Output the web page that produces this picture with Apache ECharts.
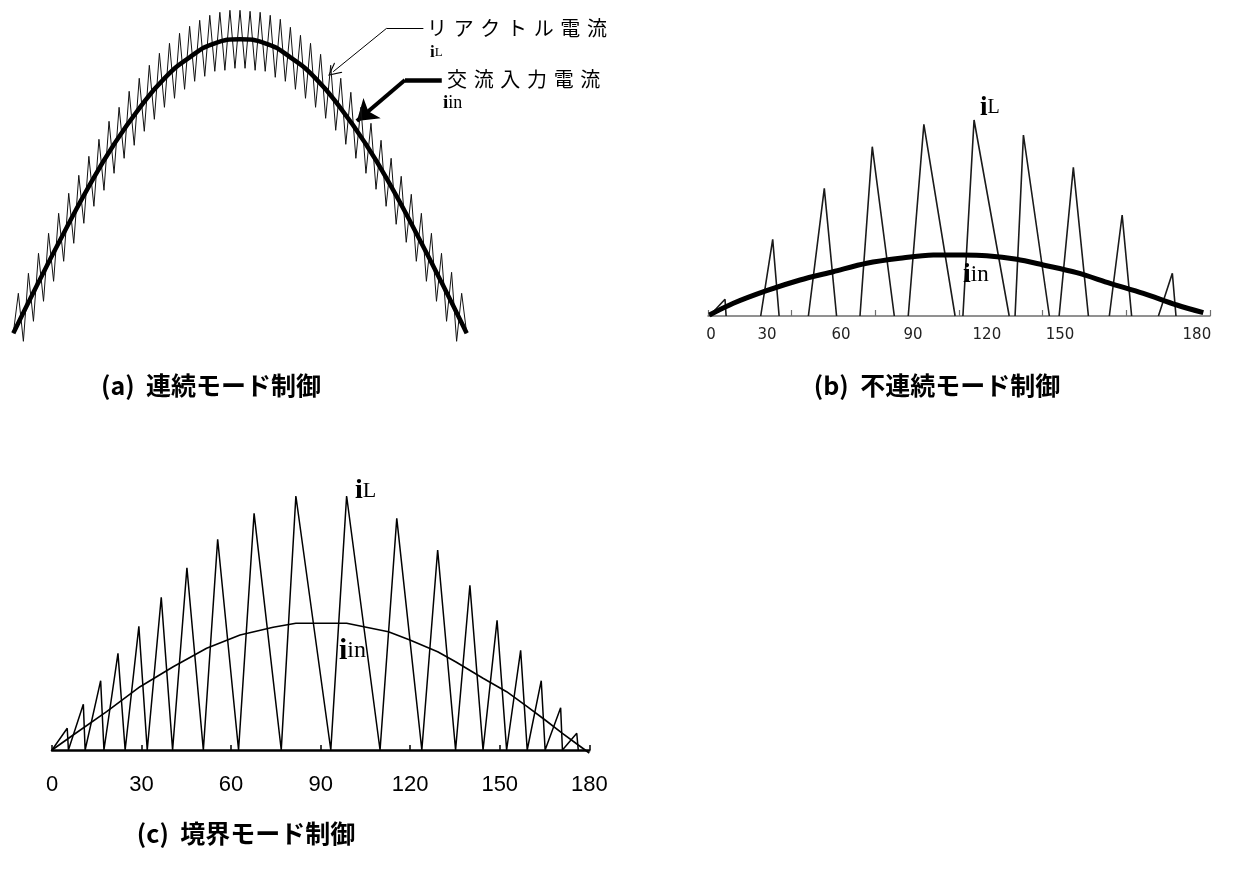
<!DOCTYPE html>
<html><head><meta charset="utf-8">
<script src="https://cdn.jsdelivr.net/npm/echarts@6/dist/echarts.min.js"></script>
<style>html,body{margin:0;padding:0;background:#fff}#c{width:1235px;height:879px}</style>
</head><body><div id="c"></div>
<script>
// ---------- (a) continuous mode: ripple samples (start, peak, valley, ..., peak, end)
const contIL = [0,
 40,-8, 60,12, 80,32, 100,52, 120,72, 140,90, 158,110, 177,127, 194,143, 212,160,
 226,175, 242,188, 255,202, 268,214, 280,226, 290,235, 300,244, 307,252, 313,257, 318,262,
 321,263, 323,265, 323,265, 322,263, 321,262, 318,256, 314,252, 306,244, 298,235, 290,226,
 279,215, 268,203, 255,189, 241,175, 226,160, 210,144, 193,127, 175,109, 157,91, 139,72,
 120,52, 100,32, 80,12, 61,-8, 40, 0];
const contIinDeg = [0,10,20,30,40,50,60,70,80,90,100,110,120,130,140,150,160,170,180];
const contIin    = [0,51,100,147,189,225,255,276,290,294,290,276,255,225,189,147,100,51,0];
// annotation leaders in (a) data coordinates [deg, value]
const leaderIL  = [[162.8,305],[148.2,305],[127.0,261.6]];
const leaderIin = [[170.1,253.3],[155.5,253.3],[136.4,212.3]];

// ---------- (b) discontinuous mode
const discIL = [
 [0.5,0],[6.1,16.7],[6.5,0],'-',
 [18.9,0],[23.2,76.7],[25.5,0],'-',
 [36.0,0],[41.7,127.7],[46.1,0],'-',
 [54.5,0],[58.9,169.3],[66.8,0],'-',
 [71.8,0],[77.4,191.7],[88.6,0],'-',
 [91.4,0],[95.4,196],[108.0,0],'-',
 [110.1,0],[113.1,181],[122.4,0],'-',
 [125.9,0],[131.0,148.7],[136.4,0],'-',
 [143.9,0],[148.5,101],[151.9,0],'-',
 [161.5,0],[166.5,42.7],[167.8,0]];
const discIin = [[0.5,1],[9.1,12.7],[21.0,25.3],[33.0,36],[44.9,44.3],[56.9,52.7],[68.8,57.7],
 [80.8,61],[91.5,61],[99.9,60.3],[110.7,56.7],[120.2,51],[132.2,43.3],[144.2,32.7],
 [156.1,22.7],[168.1,11],[177.6,3.3]];
const discTickDeg  = [0,30,60,90,120,150,180];
const discLabelDeg = [1.1,21.2,47.7,73.5,100,126.2,175.3];
const tickLabels   = ['0','30','60','90','120','150','180'];

// ---------- (c) boundary mode
const bcmIL = [[0,0],[5.1,21.7],[5.5,0],[10.5,45.7],[11.1,0],[16.3,69.3],[17.4,0],[22.1,96.7],
 [24.5,0],[29.1,123.7],[31.9,0],[36.6,152.7],[40.4,0],[45.2,182.3],[50.7,0],[55.5,210.7],
 [62.5,0],[67.7,236.7],[76.8,0],[81.7,254],[93.4,0],[98.7,254],[109.9,0],[115.5,231.7],
 [123.9,0],[129.2,200],[135.2,0],[140.0,164.7],[144.4,0],[149.1,129.7],[152.3,0],[157.0,99.7],
 [159.2,0],[163.9,69.3],[165.2,0],[170.4,42.3],[171.0,0],[175.8,16.7],[176.3,0]];
const bcmIin = [[0,0],[7.1,15],[18.3,38.3],[29.5,63.3],[40.6,83.3],[51.8,101.7],[63.0,115],
 [74.1,122.7],[81.7,126.7],[98.7,126.7],[112.7,118.3],[119.9,110],[129.2,98.3],[135.2,88.3],
 [144.4,71.7],[152.3,58.3],[159.2,43.3],[165.2,30],[171.0,16.7],[176.3,5],[180,-3]];

const chart = echarts.init(document.getElementById('c'));
const serif = '"Liberation Serif","DejaVu Serif",serif';
const jp = '"Noto Sans CJK JP","Noto Sans",sans-serif';
const chevron = 'path://M5,0 L10,10 L9,10 L5,1.8 L1,10 L0,10 Z';
const gap = '\u2004';

function iLabel(x, y, sub, big, small) {
  return {type:'text', x:x, y:y, z:100, style:{
    text:'{i|i}{s|' + sub + '}', rich:{
      i:{font:'bold ' + big + 'px ' + serif, fill:'#000'},
      s:{font:small + 'px ' + serif, fill:'#000'}},
    textAlign:'left', textVerticalAlign:'middle', align:'left', verticalAlign:'middle'}};
}
function txt(x, y, s, font, align) {
  return {type:'text', x:x, y:y, z:100, style:{text:s, font:font, fill:'#000',
    textAlign:align || 'left', textVerticalAlign:'middle', align:align || 'left', verticalAlign:'middle'}};
}

chart.setOption({
  animation:false,
  backgroundColor:'#fff',
  grid:[
    {left:13.3, top:0, width:453.4, height:373.3},
    {left:708, top:96, width:502, height:220},
    {left:52, top:480, width:537.3, height:270}
  ],
  xAxis:[
    {gridIndex:0, type:'category', data:contIL.map((_, i) => String(i)), boundaryGap:false, show:false},
    {gridIndex:0, type:'value', min:0, max:180, show:false},
    {gridIndex:1, type:'value', min:0, max:180, splitLine:{show:false},
      axisLine:{lineStyle:{color:'#6e6e6e', width:1.5}},
      axisTick:{inside:true, length:6, customValues:discTickDeg, lineStyle:{color:'#6e6e6e', width:1.2}},
      axisLabel:{customValues:discLabelDeg, margin:12, color:'#222', fontSize:15,
        fontFamily:'"DejaVu Sans", sans-serif',
        formatter:(v) => { const k = discLabelDeg.indexOf(v); return k >= 0 ? tickLabels[k] : ''; }}},
    {gridIndex:2, type:'value', min:0, max:180, interval:30, splitLine:{show:false},
      axisLine:{lineStyle:{color:'#000', width:2.5}},
      axisTick:{inside:true, length:5, lineStyle:{color:'#000', width:1.5}},
      axisLabel:{margin:24, color:'#000', fontSize:22, fontFamily:'"Liberation Sans", Arial, sans-serif',
        formatter:(v) => tickLabels[Math.round(v / 30)]}}
  ],
  yAxis:[
    {gridIndex:0, type:'value', min:-40, max:333.3, show:false},
    {gridIndex:1, type:'value', min:0, max:220, show:false},
    {gridIndex:2, type:'value', min:0, max:270, show:false}
  ],
  series:[
    {type:'line', xAxisIndex:0, yAxisIndex:0, data:contIL, symbol:'none', clip:false,
      lineStyle:{color:'#111', width:1}},
    {type:'line', xAxisIndex:1, yAxisIndex:0, data:contIinDeg.map((d, i) => [d, contIin[i]]),
      symbol:'none', smooth:true, clip:false, lineStyle:{color:'#000', width:4.5}},
    {type:'lines', coordinateSystem:'cartesian2d', xAxisIndex:1, yAxisIndex:0, symbol:'none',
      data:[{coords:[leaderIL[0], leaderIL[1]], lineStyle:{width:1}},
            {coords:[leaderIin[0], leaderIin[1]], lineStyle:{width:4.5}}],
      lineStyle:{color:'#000', opacity:1, curveness:0}},
    {type:'lines', coordinateSystem:'cartesian2d', xAxisIndex:1, yAxisIndex:0,
      symbol:['none', chevron], symbolSize:[9, 13],
      data:[{coords:[leaderIL[1], leaderIL[2]]}],
      lineStyle:{color:'#000', width:1, opacity:1}},
    {type:'lines', coordinateSystem:'cartesian2d', xAxisIndex:1, yAxisIndex:0,
      symbol:['none', 'arrow'], symbolSize:[13, 20],
      data:[{coords:[leaderIin[1], leaderIin[2]]}],
      lineStyle:{color:'#000', width:4, opacity:1}},
    {type:'line', xAxisIndex:2, yAxisIndex:1, data:discIL, symbol:'none', connectNulls:false,
      lineStyle:{color:'#1a1a1a', width:1.6}},
    {type:'line', xAxisIndex:2, yAxisIndex:1, data:discIin, symbol:'none', smooth:0.3,
      lineStyle:{color:'#000', width:5}},
    {type:'line', xAxisIndex:3, yAxisIndex:2, data:bcmIL, symbol:'none', clip:false,
      lineStyle:{color:'#000', width:1.5}},
    {type:'line', xAxisIndex:3, yAxisIndex:2, data:bcmIin, symbol:'none', clip:false,
      lineStyle:{color:'#000', width:1.6}}
  ],
  graphic:[
    txt(427, 28, ['リ','ア','ク','ト','ル','電','流'].join(gap), '20px ' + jp),
    iLabel(430, 53, 'L', 17, 13),
    txt(447, 79, ['交','流','入','力','電','流'].join(gap), '20px ' + jp),
    iLabel(443, 103, 'in', 19, 18),
    iLabel(980, 108, 'L', 27, 20),
    iLabel(963, 275, 'in', 28, 23),
    iLabel(355, 491, 'L', 28, 22),
    iLabel(339, 651, 'in', 30, 24),
    txt(211, 385, '(a)  連続モード制御', 'bold 25px ' + jp, 'center'),
    txt(937, 385, '(b)  不連続モード制御', 'bold 25px ' + jp, 'center'),
    txt(246, 833, '(c)  境界モード制御', 'bold 25px ' + jp, 'center')
  ]
});
</script></body></html>
